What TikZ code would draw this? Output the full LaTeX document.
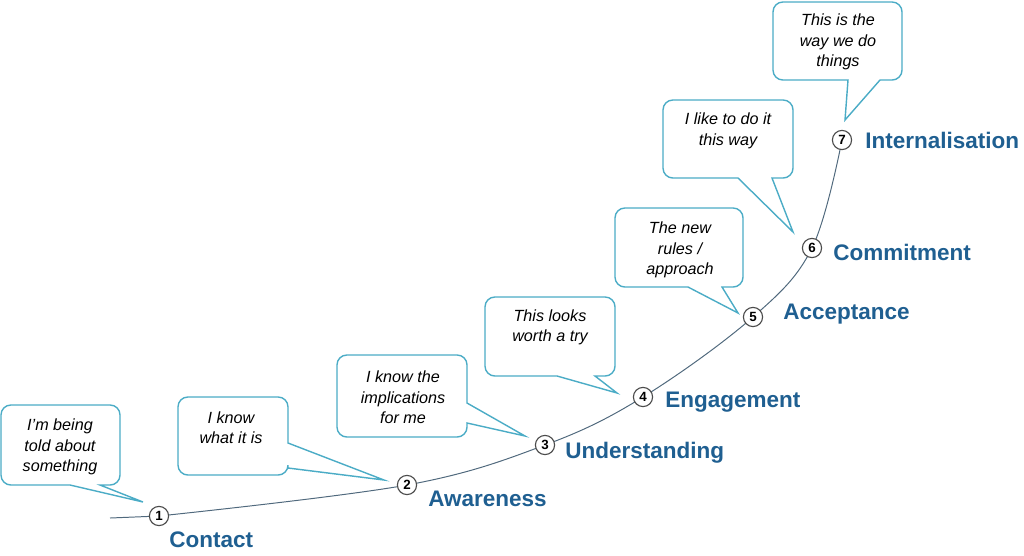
\documentclass[tikz,border=0pt]{standalone}
\usepackage{fontspec}
\setmainfont{Liberation Sans}
\usetikzlibrary{calc}
\definecolor{bubbleblue}{RGB}{75,172,198}
\definecolor{stageblue}{RGB}{31,95,145}
\definecolor{curvegrey}{RGB}{80,105,125}
\def\bubbleB(#1,#2,#3,#4)(#5,#6)(#7){\draw[bubble] (#7) -- (#6,#4) [rounded corners=7pt] -- (#3,#4) -- (#3,#2) -- (#1,#2) -- (#1,#4) [sharp corners] -- (#5,#4) -- cycle;}
\def\bubbleR(#1,#2,#3,#4)(#5,#6)(#7){\draw[bubble] (#7) -- (#3,#6) [rounded corners=7pt] -- (#3,#4) -- (#1,#4) -- (#1,#2) -- (#3,#2) [sharp corners] -- (#3,#5) -- cycle;}
\tikzset{
	bubble/.style={draw=bubbleblue, line width=1pt, fill=white},
	say/.style={align=center, inner sep=0pt, font=\itshape\fontsize{11.5}{14.6}\selectfont},
	stagenum/.style={circle, draw=black!70, fill=white, line width=0.8pt, minimum size=0.48cm, inner sep=0pt, font=\bfseries\fontsize{9.5}{9.5}\selectfont},
	stage/.style={anchor=base west, inner sep=0pt, text=stageblue, font=\bfseries\fontsize{16}{19}\selectfont}
}
\begin{document}
\begin{tikzpicture}[x=0.025cm, y=-0.025cm]
				\useasboundingbox (0,0) rectangle (1024,555);
				
				\coordinate (start) at (110,518);
				\coordinate (c1) at (159,516);
				\coordinate (c2) at (407,485);
				\coordinate (c3) at (545,445);
				\coordinate (c4) at (643,397);
				\coordinate (c5) at (753,317);
				\coordinate (c6) at (812,248);
				\coordinate (c7) at (842,140);
				\draw[curvegrey, line width=0.7pt] (start) -- (c1);
				\draw[curvegrey, line width=0.7pt] plot[smooth, tension=0.6] coordinates {(c1) (c2) (c3) (c4) (c5) (c6) (c7)};
				
				\foreach \n in {1,...,7}
					\node[stagenum] (n\n) at (c\n) {\n};
				
				% speech bubbles
				\coordinate (t1) at (143,502);
				\coordinate (t2) at (384,480);
				\coordinate (t3) at (525,436);
				\coordinate (t4) at (617,393);
				\coordinate (t5) at (738,313);
				\coordinate (t6) at (793,232);
				\coordinate (t7) at (845,120);
				\bubbleB(1,405,120,485)(70,100)(t1)
				\bubbleR(178,397,288,475)(443,468)(t2)
				\bubbleR(337,355,467,437)(403,423)(t3)
				\bubbleB(485,297,615,376)(557,595)(t4)
				\bubbleB(615,208,743,287)(688,722)(t5)
				\bubbleB(663,100,793,178)(738,772)(t6)
				\bubbleB(773,2,902,80)(848,880)(t7)
				
				\node[say] (s1) at (60,447) {I’m being\\told about\\something};
				\node[say] (s2) at (231,427.5) {I know\\what it is};
				\node[say] (s3) at (403,397.5) {I know the\\implications\\for me};
				\node[say] (s4) at (550,327.5) {This looks\\worth a try};
				\node[say] (s5) at (680,250) {The new\\rules /\\approach};
				\node[say] (s6) at (728,131) {I like to do it\\this way};
				\node[say] (s7) at (838,42) {This is the\\way we do\\things};
				
				\node[stage] (l1) at (169,547) {Contact};
				\node[stage] (l2) at (428,506) {Awareness};
				\node[stage] (l3) at (565,458) {Understanding};
				\node[stage] (l4) at (665,407) {Engagement};
				\node[stage] (l5) at (783,319) {Acceptance};
				\node[stage] (l6) at (833,260) {Commitment};
				\node[stage] (l7) at (865,148) {Internalisation};
\end{tikzpicture}
\end{document}
